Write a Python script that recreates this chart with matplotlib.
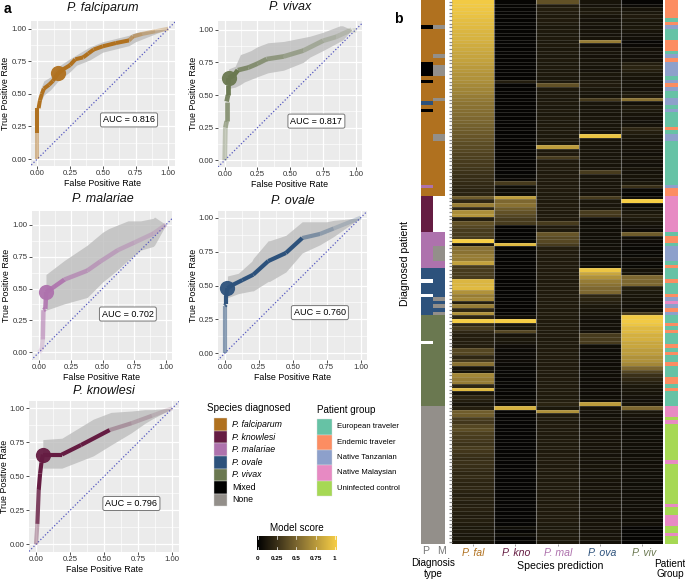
import numpy as np
import matplotlib
matplotlib.use('Agg')
import matplotlib.pyplot as plt
from matplotlib.collections import LineCollection
from matplotlib.colors import LinearSegmentedColormap
from matplotlib.patches import Rectangle

plt.rcParams['font.family'] = ['Liberation Sans', 'DejaVu Sans']
W, H = 685, 581

# ---------- ROC data ----------
fal_fpr = [0, 0, 0, .01, .02, .035, .05, .09, .12, .16, .2, .25, .29, .35, .39, .43, .5, .6, .7, .73, .8, .9, 1]
fal_tpr = [0, .2, .39, .39, .45, .5, .54, .57, .6, .66, .69, .72, .765, .78, .81, .84, .865, .89, .91, .94, .96, .98, 1]
fal_rx = [0, .03, .05, .1, .16, .25, .3, .4, .5, .7, .75, .9, 1]
fal_hi = [.4, .55, .6, .63, .71, .77, .8, .86, .9, .95, .97, .99, 1]
fal_lo = [.38, .45, .49, .53, .6, .67, .72, .76, .82, .87, .9, .96, 1]

viv_fpr = [0, .005, .015, .015, .025, .025, .03, .07, .1, .18, .25, .32, .45, .6, .75, .85, .97, 1]
viv_tpr = [0, .25, .3, .45, .5, .58, .63, .65, .69, .71, .74, .775, .795, .84, .915, .945, 1, 1]
viv_rx = [.03, .08, .12, .15, .2, .25, .33, .45, .5, .6, .65, .75, .88, .9, .97]
viv_hi = [.7, .72, .81, .82, .84, .87, .9, .91, .92, .94, .95, .98, 1.03, 1.03, 1]
viv_lo = [.55, .56, .58, .6, .62, .64, .67, .69, .71, .75, .79, .84, .91, .92, 1]

mal_fpr = [0, .02, .03, .035, .05, .055, .055, .1, .2, .38, .48, .62, .75, .9, 1]
mal_tpr = [0, .02, .1, .33, .34, .45, .47, .5, .57, .64, .71, .8, .86, .93, 1]
mal_rx = [.055, .2, .38, .5, .55, .6, .7, .8, .9, .91, 1]
mal_hi = [.61, .72, .84, .94, .97, .99, 1.03, 1.03, 1.05, 1.06, 1]
mal_lo = [.33, .38, .43, .55, .59, .63, .72, .8, .83, .84, 1]

ova_fpr = [0, 0, .01, .01, .02, .05, .13, .21, .32, .45, .57, .7, .8, 1]
ova_tpr = [0, .35, .36, .42, .48, .5, .54, .58, .68, .74, .85, .88, .92, 1]
ova_rx = [.02, .1, .2, .21, .32, .33, .45, .57, .7, .75, .8, .9, 1]
ova_hi = [.57, .59, .68, .7, .83, .83, .87, .97, .97, .97, .98, .99, 1]
ova_lo = [.41, .44, .46, .46, .53, .53, .6, .74, .8, .83, .86, .93, 1]

kno_fpr = [0, .01, .02, .03, .04, .05, .19, .33, .54, .7, .85, 1]
kno_tpr = [0, .15, .4, .52, .6, .66, .66, .73, .84, .89, .945, 1]
kno_rx = [.05, .19, .42, .55, .7, .8, .85, 1]
kno_hi = [.77, .78, .92, .97, .98, .99, .99, 1]
kno_lo = [.56, .56, .65, .73, .82, .89, .92, 1]

# title, auc, marker index
fal_meta = ('P. falciparum', 'AUC = 0.816', 9)
viv_meta = ('P. vivax', 'AUC = 0.817', 6)
mal_meta = ('P. malariae', 'AUC = 0.702', 6)
ova_meta = ('P. ovale', 'AUC = 0.760', 4)
kno_meta = ('P. knowlesi', 'AUC = 0.796', 5)

C = {'fal': '#B0711F', 'kno': '#651C42', 'mal': '#AE72AD', 'ova': '#2D527C',
     'viv': '#6A7850', 'mix': '#000000', 'non': '#938F8A', 'wht': '#FFFFFF',
     'eu': '#66C2A5', 'en': '#FC8D62', 'ta': '#8DA0CB', 'ma': '#E78AC3', 'un': '#A6D854'}

# ---------- heatmap data (150 rows, top to bottom) ----------
h_fal = [.98, .97, .96, .95, .94, .92, .91, .90, .88, .87,
         .86, .85, .83, .82, .80, .79, .78, .76, .74, .73,
         .71, .70, .68, .66, .64, .63, .60, .58, .56, .55,
         .53, .52, .50, .49, .47, .45, .44, .42, .40, .38,
         .37, .35, .33, .32, .30, .29, .27, .26, .24, .23,
         .22, .20, .18, .18, .45, .20, .62, .20, .68, .72,
         .15, .40, .35, .30, .30, .30, 1.0, .10, .55, .55,
         .60, .60, .78, .30, .30, .30, .30, .88, .88, .90,
         .70, .60, .65, .15, .60, .20, .70, .20, 1.0, .20,
         .30, .20, .15, .15, .15, .15, .35, .35, .20, .30,
         .55, .10, .10, .65, .60, .60, .20, .90, .10, .20,
         .15, .10, .15, .45, .45, .30, .28, .35, .38, .32,
         .30, .28, .26, .30, .28, .25, .22, .25, .24, .22,
         .20, .22, .20, .18, .20, .18, .16, .18, .16, .15,
         .17, .15, .14, .16, .14, .12, .13, .11, .12, .10]
h_kno = [.03, .02, .03, .02, .03, .02, .03, .02, .03, .02,
         .03, .02, .03, .02, .03, .02, .03, .02, .03, .02,
         .03, .02, .15, .03, .02, .03, .02, .03, .02, .03,
         .02, .03, .02, .03, .02, .03, .02, .03, .02, .03,
         .02, .03, .02, .03, .02, .03, .02, .03, .04, .05,
         .30, .07, .07, .07, .75, .50, .55, .45, .40, .35,
         .30, .30, .02, .03, .02, .03, .04, .90, .03, .02,
         .03, .02, .03, .02, .03, .02, .03, .02, .03, .02,
         .03, .02, .03, .02, .03, .02, .03, .08, 1.0, .10,
         .12, .35, .10, .12, .10, .06, .05, .06, .05, .06,
         .05, .04, .03, .04, .03, .04, .03, .04, .03, .04,
         .05, .06, .85, .03, .03, .03, .03, .03, .03, .03,
         .03, .03, .03, .03, .03, .03, .03, .03, .03, .03,
         .03, .03, .03, .03, .03, .03, .03, .03, .03, .03,
         .03, .03, .03, .03, .03, .07, .03, .07, .03, .03]
h_mal = [.40, .14, .15, .14, .13, .14, .13, .12, .13, .12,
         .13, .12, .13, .12, .13, .12, .13, .12, .13, .12,
         .13, .12, .13, .40, .13, .12, .13, .12, .13, .12,
         .13, .12, .13, .12, .13, .12, .13, .12, .13, .12,
         .75, .13, .14, .30, .14, .13, .14, .13, .14, .13,
         .14, .13, .14, .13, .14, .13, .14, .13, .14, .13,
         .14, .30, .14, .13, .42, .36, .36, .30, .16, .14,
         .14, .13, .14, .13, .14, .13, .14, .13, .14, .13,
         .14, .13, .14, .13, .14, .13, .14, .13, .14, .13,
         .14, .13, .14, .13, .14, .13, .14, .13, .14, .13,
         .14, .13, .14, .13, .14, .13, .14, .13, .14, .13,
         .16, .18, .12, .70, .14, .14, .13, .14, .13, .14,
         .13, .14, .13, .14, .13, .14, .13, .14, .13, .14,
         .13, .14, .13, .14, .13, .14, .13, .14, .13, .14,
         .13, .14, .13, .14, .13, .12, .13, .12, .13, .12]
h_ova = [.10, .09, .12, .13, .10, .09, .10, .09, .10, .09,
         .10, .60, .08, .09, .10, .09, .10, .11, .10, .09,
         .12, .11, .13, .14, .12, .11, .10, .30, .11, .10,
         .11, .10, .11, .10, .11, .10, .11, .95, .11, .10,
         .11, .10, .11, .10, .11, .10, .11, .30, .11, .10,
         .11, .10, .11, .10, .30, .12, .11, .12, .30, .28,
         .08, .07, .08, .07, .08, .07, .08, .07, .08, .07,
         .08, .07, .08, .07, .95, .80, .70, .60, .55, .50,
         .50, .20, .18, .15, .12, .10, .10, .09, .08, .09,
         .08, .09, .30, .30, .30, .07, .06, .07, .06, .07,
         .06, .07, .06, .07, .06, .07, .06, .07, .06, .07,
         .08, .75, .10, .09, .08, .09, .10, .09, .10, .09,
         .10, .09, .10, .09, .10, .09, .10, .09, .10, .09,
         .10, .09, .10, .09, .10, .09, .10, .09, .10, .09,
         .10, .09, .10, .09, .10, .09, .10, .09, .10, .09]
h_viv = [.03, .05, .10, .12, .14, .12, .10, .12, .10, .08,
         .08, .03, .05, .08, .09, .08, .09, .15, .18, .15,
         .12, .10, .09, .10, .09, .12, .14, .55, .08, .14,
         .12, .10, .09, .08, .10, .20, .15, .12, .10, .09,
         .10, .09, .08, .10, .09, .08, .10, .09, .10, .09,
         .12, .25, .05, .02, .08, 1.0, .05, .08, .12, .15,
         .12, .10, .08, .06, .45, .08, .06, .05, .04, .05,
         .04, .08, .05, .04, .10, .10, .50, .50, .50, .15,
         .12, .10, .10, .10, .08, .10, .30, .98, .98, .95,
         .90, .90, .85, .85, .80, .80, .75, .75, .70, .70,
         .65, .50, .35, .25, .20, .15, .12, .10, .10, .09,
         .08, .10, .50, .12, .10, .09, .08, .07, .08, .07,
         .08, .07, .08, .07, .08, .07, .08, .07, .08, .07,
         .08, .07, .08, .07, .08, .07, .08, .07, .08, .07,
         .08, .07, .08, .07, .08, .02, .03, .02, .03, .02]

# ---------- sidebars (runs of key, count) ----------
side_p = [('fal', 7), ('mix', 1), ('fal', 9), ('mix', 4), ('fal', 1), ('mix', 1), ('fal', 5),
          ('ova', 1), ('fal', 1), ('mix', 1), ('fal', 20), ('mal', 1), ('fal', 2), ('kno', 10),
          ('mal', 10), ('ova', 3), ('wht', 1), ('ova', 3), ('wht', 1), ('ova', 5), ('viv', 7),
          ('wht', 1), ('viv', 17), ('non', 38)]
side_m = [('fal', 7), ('non', 1), ('fal', 7), ('non', 1), ('fal', 2), ('non', 3), ('fal', 6),
          ('non', 1), ('fal', 9), ('non', 2), ('fal', 15), ('wht', 10), ('mal', 4), ('non', 4),
          ('mal', 2), ('ova', 8), ('non', 1), ('ova', 1), ('non', 1), ('ova', 1), ('non', 1),
          ('viv', 25), ('non', 38)]
side_g = [('en', 5), ('eu', 1), ('en', 1), ('ta', 1), ('eu', 3), ('en', 3), ('eu', 1), ('ta', 1),
          ('en', 1), ('ta', 4), ('eu', 1), ('ta', 1), ('en', 1), ('ta', 1), ('eu', 2), ('ta', 2),
          ('eu', 1), ('ta', 1), ('eu', 4), ('en', 1), ('eu', 1), ('ta', 2), ('eu', 12), ('ta', 1),
          ('en', 2), ('ma', 10), ('eu', 1), ('en', 2), ('eu', 1), ('ta', 4), ('eu', 1), ('en', 1),
          ('eu', 3), ('en', 1), ('eu', 3), ('en', 1), ('ta', 1), ('ma', 1), ('ta', 1), ('en', 1),
          ('ta', 1), ('eu', 2), ('en', 1), ('eu', 1), ('en', 1), ('eu', 3), ('en', 1), ('eu', 1),
          ('en', 1), ('eu', 2), ('en', 1), ('eu', 3), ('en', 2), ('eu', 1), ('en', 1), ('eu', 4),
          ('ma', 3), ('un', 1), ('ma', 1), ('un', 10), ('ma', 1), ('un', 11), ('ma', 1), ('un', 2),
          ('ma', 3), ('un', 2), ('ma', 1), ('un', 2)]

species_names = ['P. falciparum', 'P. knowlesi', 'P. malariae', 'P. ovale', 'P. vivax', 'Mixed', 'None']
species_keys = ['fal', 'kno', 'mal', 'ova', 'viv', 'mix', 'non']
group_names = ['European traveler', 'Endemic traveler', 'Native Tanzanian', 'Native Malaysian', 'Uninfected control']
group_keys = ['eu', 'en', 'ta', 'ma', 'un']
pred_labels = ['P. fal', 'P. kno', 'P. mal', 'P. ova', 'P. viv']
pred_keys = ['fal', 'kno', 'mal', 'ova', 'viv']
score_ticks = [0, .25, .5, .75, 1]
score_labels = ['0', '0.25', '0.5', '0.75', '1']
roc_ticks = [0, .25, .5, .75, 1]
roc_ticklabels = ['0.00', '0.25', '0.50', '0.75', '1.00']

fig = plt.figure(figsize=(W / 100, H / 100), dpi=100)


def px_axes(l, t, r, b):
    return fig.add_axes([l / W, 1 - b / H, (r - l) / W, (b - t) / H])


def ftext(x, y, s, **kw):
    kw.setdefault('ha', 'center')
    kw.setdefault('va', 'center')
    fig.text(x / W, 1 - y / H, s, **kw)


def roc(box, ref, title_y, key, fpr, tpr, rx, hi, lo, meta, fade, lw):
    l, t, r, b = box
    x0, x1, y1, y0 = ref
    ax = px_axes(l, t, r, b)
    ax.set_xlim((l - x0) / (x1 - x0), (r - x0) / (x1 - x0))
    ax.set_ylim((b - y0) / (y1 - y0), (t - y0) / (y1 - y0))
    ax.set_facecolor('#EBEBEB')
    for s in ax.spines.values():
        s.set_visible(False)
    ax.set_axisbelow(True)
    ax.set_xticks(roc_ticks, roc_ticklabels)
    ax.set_yticks(roc_ticks, roc_ticklabels)
    ax.set_xticks([.125, .375, .625, .875], minor=True)
    ax.set_yticks([.125, .375, .625, .875], minor=True)
    ax.grid(which='major', color='white', lw=.9)
    ax.grid(which='minor', color='white', lw=.45)
    ax.tick_params(which='minor', length=0)
    ax.tick_params(which='major', length=2, width=.6, color='#333333', labelsize=5.6,
                   labelcolor='#333333', pad=1.2)
    ax.set_xlabel('False Positive Rate', fontsize=6.4)
    ax.set_ylabel('True Positive Rate', fontsize=6.4)
    ax.xaxis.set_label_coords(.5, -17.5 / (b - t))
    ax.yaxis.set_label_coords(-25 / (r - l), .5)
    ax.xaxis.label.set_va('center')
    ax.yaxis.label.set_va('center')
    ax.fill_between(rx, lo, hi, color='#BDBDBD', alpha=.8, lw=0, zorder=2)
    ax.plot([-1, 2], [-1, 2], color='#5558C0', lw=.9, ls=(0, (1, 1.6)), zorder=3)
    pts = np.column_stack([fpr, tpr])
    segs = np.stack([pts[:-1], pts[1:]], axis=1)
    fin, fstart, step, fend, overall = fade
    cols = []
    base = matplotlib.colors.to_rgb(C[key])
    for (xa, ya), (xb, yb) in segs:
        mx, my = (xa + xb) / 2, (ya + yb) / 2
        a_in = min(1, .18 + .82 * my / fin)
        if mx < fstart:
            a_out = overall
        else:
            a_out = step + (fend - step) * (mx - fstart) / (1 - fstart)
        cols.append(base + (a_in * a_out,))
    ax.add_collection(LineCollection(segs, colors=cols, linewidths=lw, capstyle='butt', zorder=4))
    m = meta[2]
    ax.scatter([fpr[m]], [tpr[m]], s=120, color=C[key], lw=0, alpha=.95, zorder=5)
    ax.text(.70, .30, meta[1], fontsize=6.5, ha='center', va='center', zorder=6,
            bbox=dict(boxstyle='round,pad=0.28,rounding_size=0.2', fc='white', ec='#777777', lw=.7))
    ftext((x0 + x1) / 2, title_y, meta[0], fontsize=9, style='italic', color='#111111')


roc((30.7, 21, 175, 166), (37.3, 168.3, 28.7, 159), 7.5, 'fal', fal_fpr, fal_tpr, fal_rx, fal_hi, fal_lo, fal_meta, (.3, .7, .6, .25, 1), 2.9)
roc((218, 20.7, 361.7, 166.7), (224.7, 355.7, 29.7, 160.3), 7.5, 'viv', viv_fpr, viv_tpr, viv_rx, viv_hi, viv_lo, viv_meta, (.55, .1, .8, .15, 1), 3.4)
roc((32, 210.7, 172, 360), (39, 166, 224.7, 352.3), 199, 'mal', mal_fpr, mal_tpr, mal_rx, mal_hi, mal_lo, mal_meta, (.4, .2, .65, .25, .9), 3.2)
roc((218.3, 210.7, 366.7, 360), (224.7, 360.7, 217.7, 353.3), 201, 'ova', ova_fpr, ova_tpr, ova_rx, ova_hi, ova_lo, ova_meta, (.4, .57, .55, .1, 1), 3.0)
roc((29.3, 401, 179, 551.7), (36, 172.3, 408.3, 544.3), 391.5, 'kno', kno_fpr, kno_tpr, kno_rx, kno_hi, kno_lo, kno_meta, (.35, .54, .35, .1, 1), 3.0)

# ---------- heatmap ----------
score_cmap = LinearSegmentedColormap.from_list('score', ['#000000', '#3A3018', '#7C6730', '#BC9C3C', '#F7CE45'])
hm = px_axes(452.3, 0, 662.7, 543.7)
M = np.array([h_fal, h_kno, h_mal, h_ova, h_viv]).T
hm.pcolormesh(np.arange(6), np.arange(151), M, cmap=score_cmap, vmin=0, vmax=1)
hm.set_xlim(0, 5)
hm.set_ylim(150, 0)
for i in range(1, 150):
    hm.axhline(i, color='#D8D8D0', lw=.55, alpha=.22)
for i in range(1, 5):
    hm.axvline(i, color='#CCCCCC', lw=.8, alpha=.5)
for s in hm.spines.values():
    s.set_visible(False)
hm.set_xticks(np.arange(5) + .5, [''] * 5)
hm.set_yticks(np.arange(150) + .5, [''] * 150)
hm.tick_params(axis='y', length=2.5, width=.9, color='#8A8A8A', pad=0)
hm.tick_params(axis='x', length=1.5, width=.5, color='#777777')


def strip(box, columns):
    ax = px_axes(*box)
    ax.set_xlim(0, len(columns))
    ax.set_ylim(150, 0)
    for c, runs in enumerate(columns):
        y = 0
        for k, n in runs:
            ax.add_patch(Rectangle((c, y), 1, n, fc=C[k], ec='none'))
            y += n
    ax.axis('off')


strip((420.7, 0, 445, 543.7), [side_p, side_m])
strip((664.7, 0, 678, 543.7), [side_g])

# ---------- bottom labels ----------
for x, s in zip([426, 441], ['P', 'M']):
    ftext(x, 551.5, s, fontsize=7.6, color='#777777')
ftext(433.3, 568.5, 'Diagnosis\ntype', fontsize=7.2, linespacing=1.05)
for x, s, k in zip([473, 516, 558, 602, 644], pred_labels, pred_keys):
    ftext(x, 553, s, fontsize=7.6, style='italic', color=C[k])
ftext(560, 566, 'Species prediction', fontsize=7.6)
ftext(670, 569, 'Patient\nGroup', fontsize=7.2, linespacing=1.1)
ftext(405, 264, 'Diagnosed patient', fontsize=7.6, rotation=90)

ftext(7.5, 9, 'a', fontsize=10, fontweight='bold')
ftext(398, 19, 'b', fontsize=10, fontweight='bold')

# ---------- legends ----------
overlay = fig.add_axes([0, 0, 1, 1], facecolor='none')
overlay.set_xlim(0, W)
overlay.set_ylim(H, 0)
overlay.axis('off')
overlay.text(206.7, 408, 'Species diagnosed', fontsize=7.1, va='center')
for i, (n, k) in enumerate(zip(species_names, species_keys)):
    y = 418.3 + 12.55 * i
    overlay.add_patch(Rectangle((214, y), 12.7, 12.55, fc=C[k], ec='#DDDDDD', lw=.3))
    overlay.text(232, y + 6.2, n, fontsize=6.3, va='center',
                 style='italic' if n.startswith('P.') else 'normal')
overlay.text(316.7, 410, 'Patient group', fontsize=7.1, va='center')
for i, (n, k) in enumerate(zip(group_names, group_keys)):
    y = 419.3 + 15.3 * i
    overlay.add_patch(Rectangle((316.7, y), 15, 15.3, fc=C[k], ec='#DDDDDD', lw=.3))
    overlay.text(336.7, y + 7.6, n, fontsize=5.6, va='center')
overlay.text(296.7, 527.7, 'Model score', fontsize=7.1, ha='center', va='center')

cb = px_axes(256.7, 536, 336, 550)
cb.imshow(np.linspace(0, 1, 256)[None, :], cmap=score_cmap, aspect='auto', extent=(-.015, 1.015, 0, 1), vmin=0, vmax=1)
cb.set_xlim(-.015, 1.015)
cb.set_ylim(0, 1)
cb.set_yticks([])
cb.set_xticks(score_ticks, score_labels)
cb.tick_params(axis='x', length=0, labelsize=4.6, pad=4)
for lab in cb.get_xticklabels():
    lab.set_fontweight('bold')
for s in cb.spines.values():
    s.set_visible(False)
for v in score_ticks:
    cb.plot([v, v], [0, .18], color='white', lw=.5)
    cb.plot([v, v], [.82, 1], color='white', lw=.5)

fig.savefig('out.png', dpi=100)
